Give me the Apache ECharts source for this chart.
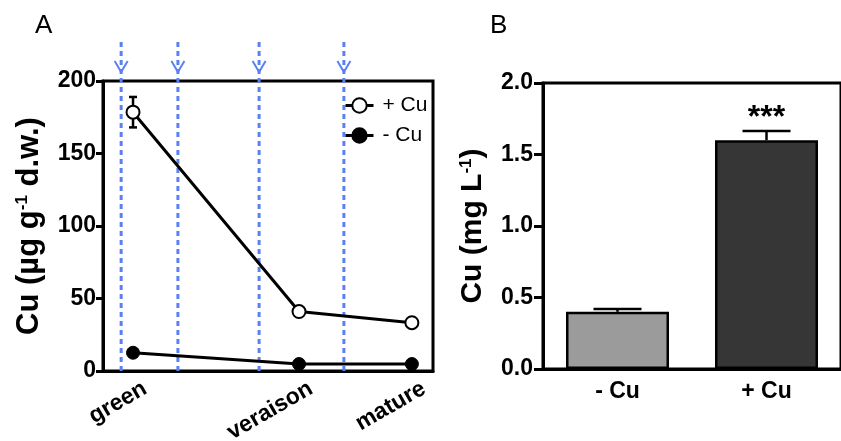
<!DOCTYPE html>
<html><head><meta charset="utf-8">
<script src="https://cdn.jsdelivr.net/npm/echarts@6/dist/echarts.min.js"></script>
<style>html,body{margin:0;padding:0;background:#fff}#c{width:841px;height:441px}</style>
</head><body><div id="c"></div>
<script>
// ---- Panel A data ----
const stageNames = ['green', 'veraison', 'mature'];
const stagePos = [9.1, 59.4, 93.6];
const plusCu = [178.5, 41, 33.3];
const plusCuErr = [10.5, 0, 0];
const minusCu = [12.6, 4.8, 4.8];
const minusCuErr = [0, 0, 0];
const treatmentPos = [5.5, 22.7, 47.3, 73.0];
// ---- Panel B data ----
const barCats = ['- Cu', '+ Cu'];
const barVals = [0.40, 1.60];
const barErr = [0.02, 0.065];
const barSig = ['', '***'];

const FONT = "'Liberation Sans', Arial, Helvetica, sans-serif";
const BLUE = '#5a80f2';
const chart = echarts.init(document.getElementById('c'), null, {renderer: 'canvas'});

function errRender(capHalf, upOnly) {
  return function (params, api) {
    const x = api.value(0), y = api.value(1), e = api.value(2);
    if (!e) return null;
    const p = api.coord([x, y]);
    const t = api.coord([x, y + e]);
    const b = upOnly ? p : api.coord([x, y - e]);
    const st = {stroke: '#000', lineWidth: 2.5};
    return {type: 'group', children: [
      {type: 'line', shape: {x1: p[0], y1: b[1], x2: p[0], y2: t[1]}, style: st},
      {type: 'line', shape: {x1: p[0] - capHalf, y1: t[1], x2: p[0] + capHalf, y2: t[1]}, style: st},
      upOnly ? null : {type: 'line', shape: {x1: p[0] - capHalf, y1: b[1], x2: p[0] + capHalf, y2: b[1]}, style: st}
    ].filter(Boolean)};
  };
}

const supRich = {sup: {fontFamily: FONT, fontSize: 17, fontWeight: 'bold', color: '#000', verticalAlign: 'top', padding: [0, 0, 13, 0]}};

const option = {
  animation: false,
  backgroundColor: '#fff',
  textStyle: {fontFamily: FONT},
  title: [
    {text: 'A', left: 30, top: 8, textStyle: {fontFamily: FONT, fontSize: 26, fontWeight: 'normal', color: '#000'}},
    {text: 'B', left: 485, top: 8, textStyle: {fontFamily: FONT, fontSize: 26, fontWeight: 'normal', color: '#000'}}
  ],
  legend: {
    data: ['+ Cu', '- Cu'], orient: 'vertical', left: 339, top: 90, itemGap: 9,
    itemWidth: 28, itemHeight: 18,
    lineStyle: {width: 3},
    textStyle: {fontFamily: FONT, fontSize: 21, color: '#000', padding: [0, 0, 0, 4]}
  },
  grid: [
    {left: 103, top: 81, width: 330, height: 290, show: true, borderColor: '#000', borderWidth: 3, backgroundColor: 'transparent'},
    {left: 543, top: 83, width: 306, height: 286, show: true, borderColor: '#000', borderWidth: 3, backgroundColor: 'transparent'}
  ],
  xAxis: [
    {gridIndex: 0, type: 'value', min: 0, max: 100, axisLabel: {show: false}, axisTick: {show: false},
     splitLine: {show: false}, axisLine: {lineStyle: {color: '#000', width: 3}}},
    {gridIndex: 1, type: 'category', data: barCats,
     axisTick: {alignWithLabel: true, length: 7, lineStyle: {color: '#000', width: 3}},
     axisLine: {lineStyle: {color: '#000', width: 3}},
     axisLabel: {fontFamily: FONT, fontSize: 23, fontWeight: 'bold', color: '#000', margin: 11}}
  ],
  yAxis: [
    {gridIndex: 0, type: 'value', min: 0, max: 200, interval: 50, splitLine: {show: false},
     axisLine: {show: true, lineStyle: {color: '#000', width: 3}},
     axisTick: {show: true, length: 7, lineStyle: {color: '#000', width: 3}},
     axisLabel: {fontFamily: FONT, fontSize: 23, fontWeight: 'bold', color: '#000', margin: 7},
     name: 'Cu (µg g{sup|-1} d.w.)', nameLocation: 'middle', nameGap: 58, nameRotate: 90,
     nameTextStyle: {fontFamily: FONT, fontSize: 31, fontWeight: 'bold', color: '#000', rich: supRich}},
    {gridIndex: 1, type: 'value', min: 0, max: 2, interval: 0.5, splitLine: {show: false},
     axisLine: {show: true, lineStyle: {color: '#000', width: 3}},
     axisTick: {show: true, length: 9, lineStyle: {color: '#000', width: 3}},
     axisLabel: {fontFamily: FONT, fontSize: 23, fontWeight: 'bold', color: '#000', margin: 10, formatter: v => v.toFixed(1)},
     name: 'Cu (mg L{sup|-1})', nameLocation: 'middle', nameGap: 55, nameRotate: 90,
     nameTextStyle: {fontFamily: FONT, fontSize: 30, fontWeight: 'bold', color: '#000', rich: supRich}}
  ],
  series: [
    {
      name: 'treatments', type: 'custom', xAxisIndex: 0, yAxisIndex: 0, clip: false, z: 1, silent: true,
      data: treatmentPos.map(p => [p]),
      renderItem: function (params, api) {
        const x = api.value(0);
        const b = api.coord([x, 0]);
        const t = api.coord([x, 200]);
        const tip = t[1] - 9, start = t[1] - 39;
        return {type: 'group', children: [
          {type: 'line', shape: {x1: b[0], y1: b[1], x2: b[0], y2: start}, style: {stroke: BLUE, lineWidth: 3, lineDash: [5, 4]}},
          {type: 'polyline', shape: {points: [[b[0] - 6.5, tip - 11], [b[0], tip], [b[0] + 6.5, tip - 11]]}, style: {stroke: BLUE, lineWidth: 2, fill: null}}
        ]};
      }
    },
    {
      name: '+ Cu', type: 'line', xAxisIndex: 0, yAxisIndex: 0, z: 5,
      data: stagePos.map((p, i) => [p, plusCu[i]]),
      symbol: 'circle', symbolSize: 13,
      lineStyle: {color: '#000', width: 3},
      itemStyle: {color: '#fff', borderColor: '#000', borderWidth: 2}
    },
    {
      name: '- Cu', type: 'line', xAxisIndex: 0, yAxisIndex: 0, z: 5,
      data: stagePos.map((p, i) => [p, minusCu[i]]),
      symbol: 'circle', symbolSize: 13,
      lineStyle: {color: '#000', width: 3},
      itemStyle: {color: '#000', borderColor: '#000', borderWidth: 1}
    },
    {
      name: 'errA', type: 'custom', xAxisIndex: 0, yAxisIndex: 0, z: 4, silent: true,
      data: stagePos.map((p, i) => [p, plusCu[i], plusCuErr[i]]).concat(stagePos.map((p, i) => [p, minusCu[i], minusCuErr[i]])),
      renderItem: errRender(4, false)
    },
    {
      name: 'stageLabels', type: 'custom', xAxisIndex: 0, yAxisIndex: 0, clip: false, silent: true,
      data: stagePos.map((p, i) => [p, i]),
      renderItem: function (params, api) {
        const pt = api.coord([api.value(0), 0]);
        return {type: 'text', x: pt[0] + 12, y: pt[1] + 16, rotation: Math.PI / 6,
          style: {text: stageNames[api.value(1)], align: 'right', verticalAlign: 'middle',
            font: 'bold 23px ' + FONT, fill: '#000'}};
      }
    },
    {
      name: 'bars', type: 'bar', xAxisIndex: 1, yAxisIndex: 1, barWidth: 103, z: 2,
      data: barVals.map((v, i) => ({value: v, itemStyle: {color: ['#9b9b9b', '#363636'][i]}})),
      itemStyle: {borderColor: '#000', borderWidth: 2.5},
      label: {show: true, position: 'top', distance: 6, formatter: p => barSig[p.dataIndex],
        fontFamily: FONT, fontSize: 32, fontWeight: 'bold', color: '#000'}
    },
    {
      name: 'errB', type: 'custom', xAxisIndex: 1, yAxisIndex: 1, z: 3, silent: true,
      data: barVals.map((v, i) => [i, v, barErr[i]]),
      renderItem: errRender(24, true)
    }
  ]
};
chart.setOption(option);
</script>
</body></html>
